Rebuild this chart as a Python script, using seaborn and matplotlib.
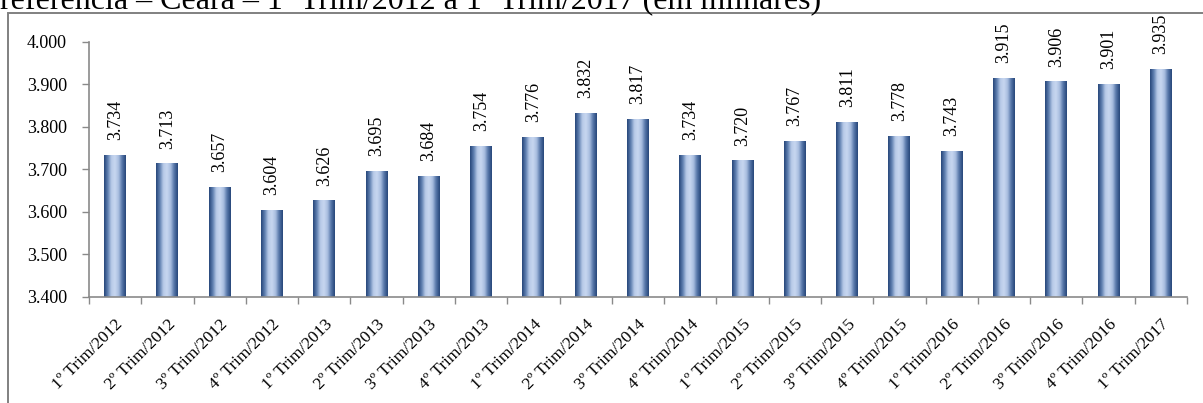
import numpy as np
import pandas as pd
import seaborn as sns
import matplotlib
matplotlib.use('Agg')
import matplotlib.pyplot as plt
from matplotlib.colors import LinearSegmentedColormap
from matplotlib.patches import Rectangle
from matplotlib.ticker import FuncFormatter

# trimestres e populacao ocupada (em milhares)
quarters = ['1º Trim/2012', '2º Trim/2012', '3º Trim/2012', '4º Trim/2012',
            '1º Trim/2013', '2º Trim/2013', '3º Trim/2013', '4º Trim/2013',
            '1º Trim/2014', '2º Trim/2014', '3º Trim/2014', '4º Trim/2014',
            '1º Trim/2015', '2º Trim/2015', '3º Trim/2015', '4º Trim/2015',
            '1º Trim/2016', '2º Trim/2016', '3º Trim/2016', '4º Trim/2016',
            '1º Trim/2017']
values = [3734, 3713, 3657, 3604, 3626, 3695, 3684, 3754, 3776, 3832, 3817,
          3734, 3720, 3767, 3811, 3778, 3743, 3915, 3906, 3901, 3935]
title = 'referência – Ceará – 1º Trim/2012 a 1º Trim/2017 (em milhares)'


def milhar(v, pos=None):
    return '{:,.0f}'.format(v).replace(',', '.')


sns.set_theme(style='white')
plt.rcParams['font.family'] = ['Liberation Serif', 'DejaVu Serif']

fig = plt.figure(figsize=(12.03, 4.03), dpi=100)
ax = fig.add_axes([89 / 1203, 1 - 297 / 403, (1187 - 89) / 1203, (297 - 42) / 403])

df = pd.DataFrame({'trim': quarters, 'valor': values})
sns.barplot(data=df, x='trim', y='valor', color='#3a5a8c', width=0.42, ax=ax)

# gradiente horizontal nas barras (escuro nas bordas, claro no meio)
cmap = LinearSegmentedColormap.from_list(
    'bar', ['#26467a', '#5f7fb0', '#b7cae8', '#c8d7f0', '#a9bee0', '#5676a8', '#26467a'])
grad = np.linspace(0, 1, 64).reshape(1, -1)
for p in ax.patches:
    x0, w = p.get_x(), p.get_width()
    h = p.get_height()
    ax.imshow(grad, extent=[x0, x0 + w, 0, h], aspect='auto', cmap=cmap,
              origin='lower', zorder=2, interpolation='bicubic')
    p.set_visible(False)

ax.set_xlim(-0.5, len(quarters) - 0.5)
ax.set_ylim(3400, 4000)
ax.set_yticks(np.arange(3400, 4001, 100))
ax.yaxis.set_major_formatter(FuncFormatter(milhar))

for i, v in enumerate(values):
    ax.annotate(milhar(v), (i, v), xytext=(0, 11), textcoords='offset points',
                rotation=90, ha='center', va='bottom', fontsize=13, color='black')

ax.set_xlabel('')
ax.set_ylabel('')
ax.set_xticks(np.arange(-0.5, len(quarters), 1), minor=True)
ax.set_xticks(np.arange(len(quarters)))
ax.set_xticklabels(quarters, rotation=45, ha='right', rotation_mode='anchor', fontsize=12.5)
ax.tick_params(axis='x', which='major', length=0, pad=14)
ax.tick_params(axis='x', which='minor', length=5, width=1, color='#8a8a8a', bottom=True)
ax.tick_params(axis='y', length=5, width=1, color='#8a8a8a', left=True, labelsize=13, pad=11)
for lab in ax.get_xticklabels() + ax.get_yticklabels():
    lab.set_color('black')

for s in ['top', 'right']:
    ax.spines[s].set_visible(False)
for s in ['left', 'bottom']:
    ax.spines[s].set_color('#8a8a8a')
    ax.spines[s].set_linewidth(1.2)

# moldura do grafico (so aparecem topo e esquerda)
fig.patches.append(Rectangle((8 / 1203, -0.1), 1.2, 1.1 - 13 / 403, transform=fig.transFigure,
                             fill=False, edgecolor='#808080', linewidth=1.4))

# titulo cortado na parte de cima
fig.text(0.0, 1 - 9 / 403, title, ha='left', va='baseline', fontsize=23, color='black')

fig.savefig('out.png', dpi=100)
